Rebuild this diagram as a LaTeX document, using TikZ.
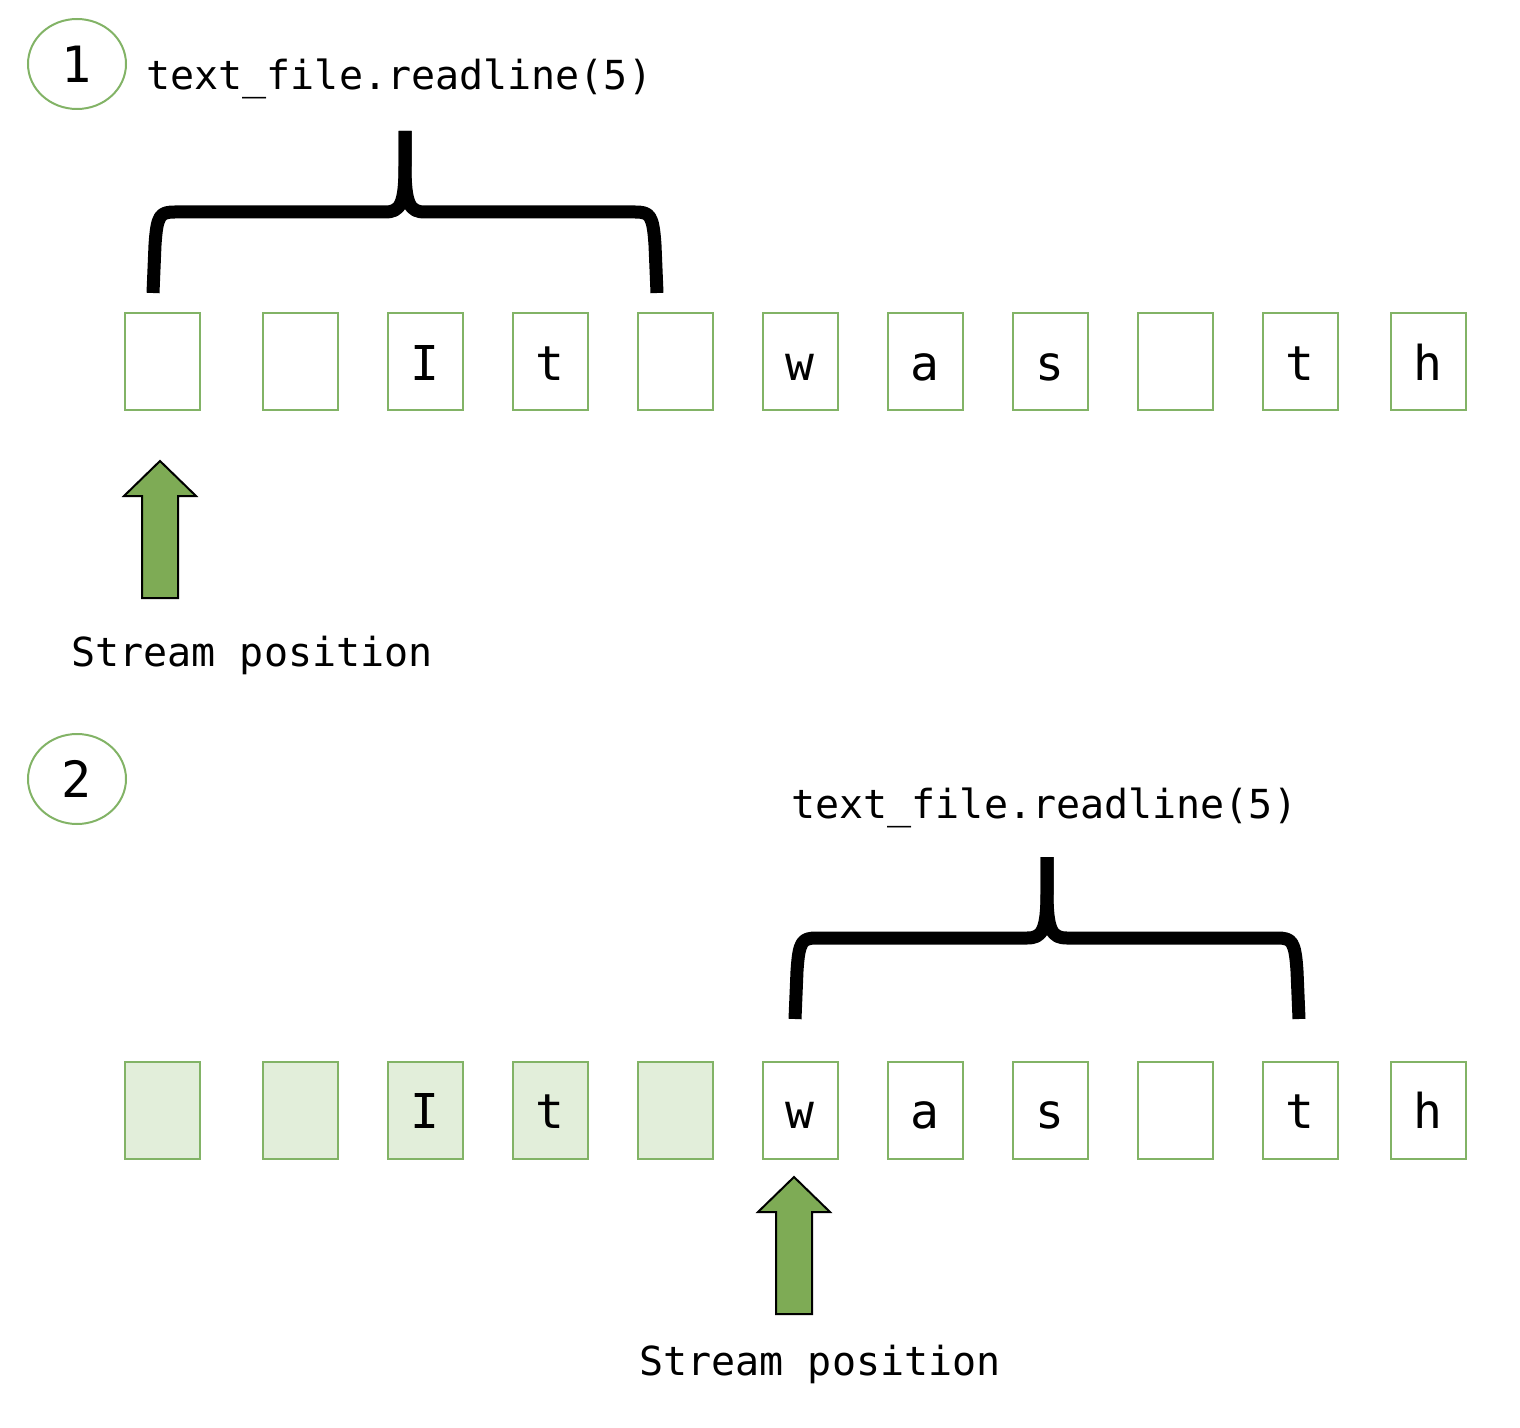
\documentclass[tikz,border=0pt]{standalone}
\usepackage{fontspec}
\setmainfont{DejaVu Sans Mono}
\usetikzlibrary{shapes.geometric}
\definecolor{grn}{HTML}{82B366}
\definecolor{grnlight}{HTML}{E2EEDA}
\definecolor{arrowgrn}{HTML}{7EAB55}
\begin{document}
\begin{tikzpicture}[x=0.5pt,y=-0.5pt,
  cell/.style={draw=grn,line width=1pt,minimum width=37.5pt,minimum height=48.5pt,inner sep=0pt,text height=18.5pt,text depth=0pt,font=\fontsize{24}{28}\selectfont},
  readcell/.style={cell,fill=grnlight},
  stepnum/.style={ellipse,draw=grn,line width=1pt,minimum width=49pt,minimum height=45pt,inner sep=0pt,font=\fontsize{25}{30}\selectfont},
  code/.style={inner sep=0pt,anchor=base west,font=\fontsize{20}{24}\selectfont},
  bracestroke/.style={line width=6.5pt,line cap=butt,line join=round},
  arrowbody/.style={draw=black,line width=1pt,fill=arrowgrn,line join=miter},
  readbrace/.pic={
    \draw[bracestroke] (-252,81) -- (-250,33) .. controls (-248,3) and (-245,0) .. (-230,0) -- (-20,0) .. controls (-5,0) and (0,-7) .. (0,-47) -- (0,-81);
    \draw[bracestroke] (252,81) -- (250,33) .. controls (248,3) and (245,0) .. (230,0) -- (20,0) .. controls (5,0) and (0,-7) .. (0,-47) -- (0,-81);
  },
  posarrow/.pic={
    \draw[arrowbody] (0,0) -- (36,35) -- (18,35) -- (18,137) -- (-18,137) -- (-18,35) -- (-36,35) -- cycle;
  }]
\useasboundingbox (0,0) rectangle (1520,1428);

% ---- step 1 ----
\node[stepnum] (n1) at (77,64) {1};
\node[code] (c1) at (146,90) {text\_file.readline(5)};
\pic at (405,212) {readbrace};
\foreach \i/\x/\c in {1/162/{},2/300/{},3/425/I,4/550/t,5/675/{},6/800/w,7/925/a,8/1050/s,9/1175/{},10/1300/t,11/1428/h}{
  \node[cell] (a\i) at (\x,362) {\c};
}
\pic at (160,461) {posarrow};
\node[code] (s1) at (71,666) {Stream position};

% ---- step 2 ----
\node[stepnum] (n2) at (77,779) {2};
\node[code] (c2) at (791,818) {text\_file.readline(5)};
\pic at (1047,938) {readbrace};
\foreach \i/\x/\c in {1/162/{},2/300/{},3/425/I,4/550/t,5/675/{}}{
  \node[readcell] (b\i) at (\x,1110) {\c};
}
\foreach \i/\x/\c in {6/800/w,7/925/a,8/1050/s,9/1175/{},10/1300/t,11/1428/h}{
  \node[cell] (b\i) at (\x,1110) {\c};
}
\pic at (794,1177) {posarrow};
\node[code] (s2) at (639,1375) {Stream position};
\end{tikzpicture}
\end{document}
